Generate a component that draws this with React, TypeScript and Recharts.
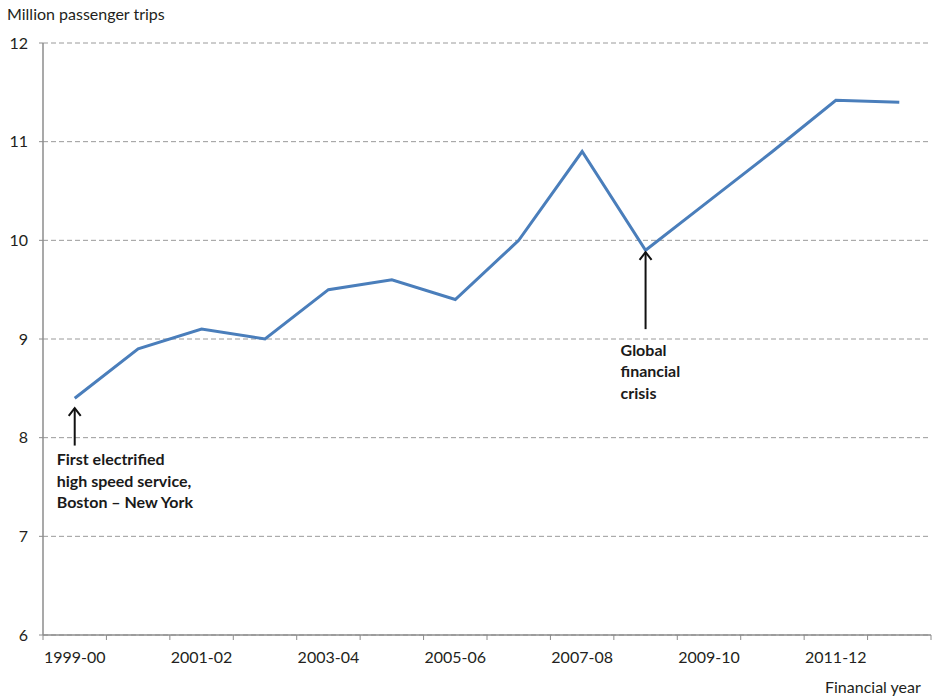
import { CartesianGrid, Line, LineChart, ReferenceLine, XAxis, YAxis } from "recharts";

const years = [
  "1999-00", "2000-01", "2001-02", "2002-03", "2003-04", "2004-05", "2005-06",
  "2006-07", "2007-08", "2008-09", "2009-10", "2010-11", "2011-12", "2012-13",
];
const trips = [8.4, 8.9, 9.1, 9.0, 9.5, 9.6, 9.4, 10.0, 10.9, 9.9, 10.4, 10.9, 11.42, 11.4];
const yTicks = [6, 7, 8, 9, 10, 11, 12];
const labelledYears = ["1999-00", "2001-02", "2003-04", "2005-06", "2007-08", "2009-10", "2011-12"];

// annotations: arrow from base up to tip
const noteYears = ["1999-00", "2008-09"];
const noteTips = [8.3, 9.88];
const noteBases = [7.92, 9.1];
const noteLines = [
  ["First electrified", "high speed service,", "Boston – New York"],
  ["Global", "financial", "crisis"],
];
// text placement relative to arrow base (styling only)
const noteOffsets = [
  { dx: -18, dy: 13 },
  { dx: -25, dy: 20 },
];

const data = years.map((year, i) => ({ year, trips: trips[i] }));

const W = 934;
const H = 699;
const MARGIN = { top: 43, right: 3, left: 0, bottom: 34 };
const Y_AXIS_W = 43;
const X_TICK_SIZE = 5;
const X_TICK_MARGIN = 12;
const AXIS_COLOR = "#8c8c8c";
const TEXT_COLOR = "#231f20";
const TICK_FONT = "Lato, 'Open Sans', sans-serif";
const NOTE_FONT = "Lato, 'Open Sans', sans-serif";
const BAND = (W - MARGIN.left - MARGIN.right - Y_AXIS_W) / years.length;

function YearTick(props: any) {
  const { x, y, payload, index } = props;
  const axisY = y - X_TICK_SIZE - X_TICK_MARGIN;
  const half = payload?.offset > 0 ? payload.offset : BAND / 2;
  const last = index === years.length - 1;
  return (
    <g>
      <line x1={x - half} x2={x - half} y1={axisY} y2={axisY + X_TICK_SIZE} stroke={AXIS_COLOR} />
      {last && (
        <line x1={x + half} x2={x + half} y1={axisY} y2={axisY + X_TICK_SIZE} stroke={AXIS_COLOR} />
      )}
      {labelledYears.includes(payload.value) && (
        <text
          x={x}
          y={y}
          dy="0.71em"
          textAnchor="middle"
          fill={TEXT_COLOR}
          fontSize={16}
          fontFamily={TICK_FONT}
        >
          {payload.value}
        </text>
      )}
    </g>
  );
}

function NoteArrow(props: any, i: number) {
  const { x1, y1, x2, y2 } = props;
  if (x1 == null || y1 == null) return <g />;
  const head = 6;
  const off = noteOffsets[i];
  return (
    <g>
      <line x1={x1} y1={y1} x2={x2} y2={y2} stroke="#111" strokeWidth={2} />
      <polyline
        points={`${x2 - head},${y2 + head * 1.3} ${x2},${y2} ${x2 + head},${y2 + head * 1.3}`}
        fill="none"
        stroke="#111"
        strokeWidth={2}
      />
      {noteLines[i].map((t, k) => (
        <text
          key={k}
          x={x1 + off.dx}
          y={y1 + off.dy + k * 21.5}
          dominantBaseline="central"
          fontFamily={NOTE_FONT}
          fontWeight={700}
          fontSize={16}
          fill="#1a1a1a"
        >
          {t}
        </text>
      ))}
    </g>
  );
}

export default function App() {
  return (
    <div
      style={{
        position: "absolute",
        left: 0,
        top: 0,
        width: W,
        height: H,
        background: "#fff",
        fontFamily: TICK_FONT,
        color: TEXT_COLOR,
      }}
    >
      <div style={{ position: "absolute", left: 7, top: 4, fontSize: 16 }}>Million passenger trips</div>
      <div style={{ position: "absolute", left: 825, top: 677, fontSize: 16 }}>Financial year</div>
      <LineChart width={W} height={H} data={data} margin={MARGIN}>
        <CartesianGrid vertical={false} stroke="#9a9a9a" strokeDasharray="5 3" />
        <XAxis
          dataKey="year"
          scale="band"
          interval={0}
          tickLine={false}
          tickSize={X_TICK_SIZE}
          tickMargin={X_TICK_MARGIN}
          axisLine={{ stroke: AXIS_COLOR, strokeWidth: 1.5 }}
          tick={<YearTick />}
          height={30}
        />
        <YAxis
          domain={[6, 12]}
          ticks={yTicks}
          width={Y_AXIS_W}
          tickSize={4}
          tickMargin={11}
          axisLine={{ stroke: AXIS_COLOR, strokeWidth: 1.5 }}
          tickLine={{ stroke: AXIS_COLOR }}
          tick={{ fill: TEXT_COLOR, fontSize: 16, fontFamily: TICK_FONT }}
        />
        <Line
          type="linear"
          dataKey="trips"
          stroke="#4a7ebb"
          strokeWidth={3}
          dot={false}
          isAnimationActive={false}
        />
        {noteYears.map((yr, i) => (
          <ReferenceLine
            key={yr}
            segment={[
              { x: yr, y: noteBases[i] },
              { x: yr, y: noteTips[i] },
            ]}
            shape={(p: any) => NoteArrow(p, i)}
          />
        ))}
      </LineChart>
    </div>
  );
}
